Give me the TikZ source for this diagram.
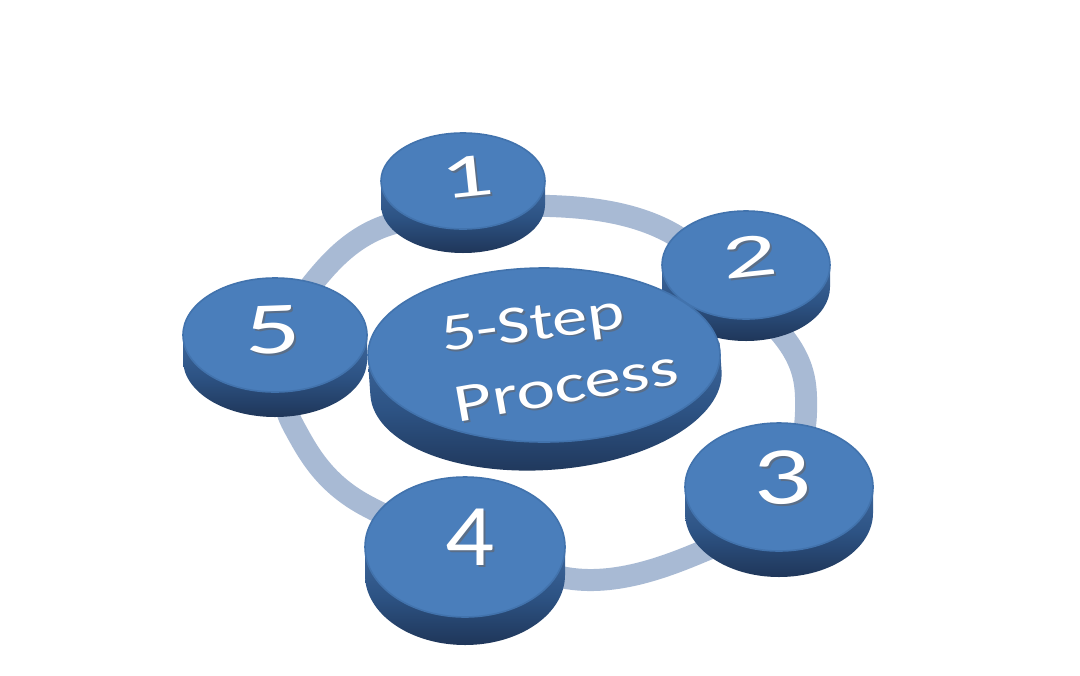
\documentclass[tikz,border=0pt]{standalone}
\usepackage{fontspec}
\setmainfont{Carlito}
\usetikzlibrary{shapes.geometric}
\definecolor{facecol}{HTML}{4A7EBB}
\definecolor{faceedge}{HTML}{4273AD}
\definecolor{sidetop}{HTML}{3E679C}
\definecolor{sidemid}{HTML}{2D5384}
\definecolor{sidebot}{HTML}{1F3659}
\definecolor{ringcol}{HTML}{A8BAD4}
\definecolor{shadowcol}{HTML}{5A6E88}
\newcommand\mydisk[6]{% name, cx, cy, rx, ry, t
  \shade[top color=sidetop, bottom color=sidebot, middle color=sidemid]
    (#2-#4,#3) -- (#2-#4,#3+#6)
    arc[start angle=180, end angle=0, x radius=#4, y radius=#5]
    -- (#2+#4,#3) -- cycle;
  \node[faceshape, minimum width=2*#4*0.5pt, minimum height=2*#5*0.5pt] (#1) at (#2,#3) {};
}
\newcommand\mylabel[6]{% name, text, cx, cy, size, rot, xscale
  \node[labeltxt, text=shadowcol, rotate=#5, xscale=#6, font=\fontsize{#4}{#4}\selectfont] (#1s) at ([shift={(1.8,1.8)}]#3) {#2};
  \node[labeltxt, rotate=#5, xscale=#6, font=\fontsize{#4}{#4}\selectfont] (#1) at (#3) {#2};
}
\tikzset{
  faceshape/.style={ellipse, fill=facecol, draw=faceedge, line width=0.8pt, inner sep=0pt},
  labeltxt/.style={text=white, inner sep=0pt},
  ringline/.style={draw=ringcol, line width=11pt}
}
\begin{document}
\begin{tikzpicture}[x=0.5pt, y=-0.5pt]
\useasboundingbox (0,0) rectangle (1080,675);
\fill[white] (0,0) rectangle (1080,675);
% ring
\draw[ringline] plot[smooth cycle, tension=0.55] coordinates {(550,206) (673,234) (786,340) (806,412) (783,492) (713,547) (573,579) (365,505) (294,427) (282,355) (313,283) (388,225)};
% disks back to front
\mydisk{d1}{463}{181}{82}{48}{24}
\mydisk{d2}{746}{265}{84}{54}{22}
\mydisk{d5}{275}{335}{92}{57}{25}
\begin{scope}[rotate around={4:(544,355)}]
\mydisk{dc}{544}{355}{176}{87}{28}
\end{scope}
\mydisk{d3}{779}{487}{94}{64}{26}
\mydisk{d4}{465}{547}{100}{70}{28}
% labels
\mylabel{t1}{1}{{467,177}}{31}{6}{1.7}
\mylabel{t2}{2}{{750,257}}{31}{6}{1.75}
\mylabel{t3}{3}{{782,478}}{41}{3}{1.4}
\mylabel{t4}{4}{{470,537}}{44}{0}{1.1}
\mylabel{t5}{5}{{273,330}}{37}{2}{1.5}
\mylabel{ta}{5-Step}{{533,327}}{26.5}{7.5}{1.33}
\mylabel{tb}{Process}{{566,386}}{27}{10}{1.36}
\end{tikzpicture}
\end{document}
